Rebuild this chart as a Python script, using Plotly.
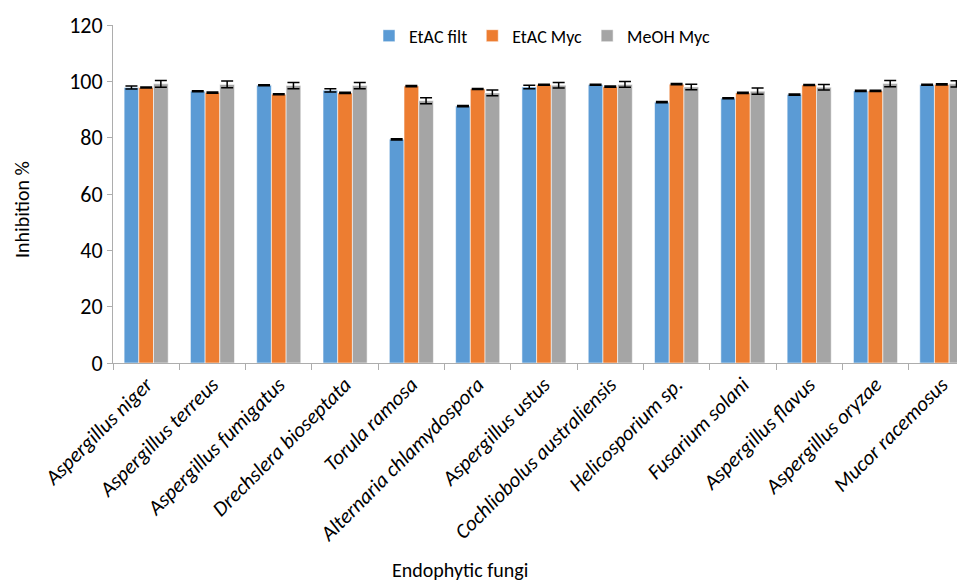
import plotly.graph_objects as go

categories = ["Aspergillus niger", "Aspergillus terreus", "Aspergillus fumigatus",
              "Drechslera bioseptata", "Torula ramosa", "Alternaria chlamydospora",
              "Aspergillus ustus", "Cochliobolus australiensis", "Helicosporium sp.",
              "Fusarium solani", "Aspergillus flavus", "Aspergillus oryzae", "Mucor racemosus"]

etac_filt = [97.8, 96.5, 98.6, 96.8, 79.4, 91.2, 98.0, 98.8, 92.6, 94.0, 95.3, 96.6, 98.8]
etac_filt_err = [0.5, 0.2, 0.2, 0.6, 0.2, 0.2, 0.65, 0.2, 0.2, 0.2, 0.2, 0.2, 0.2]

etac_myc = [97.8, 96.0, 95.4, 95.9, 98.3, 97.3, 98.8, 98.1, 99.0, 95.9, 98.7, 96.6, 98.9]
etac_myc_err = [0.2, 0.2, 0.2, 0.2, 0.2, 0.2, 0.2, 0.2, 0.2, 0.2, 0.2, 0.2, 0.2]

meoh_myc = [99.1, 98.9, 98.5, 98.5, 93.1, 95.9, 98.6, 98.9, 98.0, 96.5, 97.9, 99.2, 99.1]
meoh_myc_err = [1.2, 1.2, 1.1, 1.1, 1.1, 1.0, 1.0, 1.0, 1.0, 1.1, 1.0, 1.1, 1.1]

series = [
    ("EtAC filt", etac_filt, etac_filt_err, "#5B9BD5"),
    ("EtAC Myc", etac_myc, etac_myc_err, "#ED7D31"),
    ("MeOH Myc", meoh_myc, meoh_myc_err, "#A5A5A5"),
]

FONT = "Carlito, Lato, 'Liberation Sans', sans-serif"

# page body adds an 8px offset; figure is sized/placed to compensate
W, H = 957, 575
L, T, B = 105, 17, 220
PW, PH = W - L, H - T - B

fig = go.Figure()
for name, vals, errs, col in series:
    fig.add_trace(go.Bar(
        name=name, x=categories, y=vals,
        marker=dict(color=col, line=dict(color="rgba(255,255,255,0.7)", width=0.8)),
        error_y=dict(type="data", array=errs, visible=True, color="black",
                     thickness=1.5, width=6),
    ))

axis_col = "#ADADAD"
fig.update_layout(
    width=W, height=H,
    margin=dict(l=L, r=0, t=T, b=B, autoexpand=False),
    paper_bgcolor="white", plot_bgcolor="white",
    barmode="group", bargap=0.335, bargroupgap=0,
    font=dict(family=FONT, color="black"),
    showlegend=True,
    legend=dict(orientation="h", x=(542 - 8 - L) / PW, xanchor="center",
                y=(H - B - 28) / PH, yanchor="middle",
                font=dict(family=FONT, size=18), itemwidth=30, traceorder="normal",
                bgcolor="rgba(0,0,0,0)"),
    xaxis=dict(
        type="category", range=[-0.5, 12.35], tickson="boundaries",
        ticks="outside", ticklen=6, tickcolor=axis_col, tickwidth=1,
        showline=True, linecolor=axis_col, linewidth=1,
        tickangle=-45, tickfont=dict(family=FONT, size=21, style="italic"),
        showgrid=False,
    ),
    yaxis=dict(
        range=[0, 120], tickvals=[0, 20, 40, 60, 80, 100, 120],
        ticks="outside", ticklen=5, tickcolor=axis_col, tickwidth=1,
        showline=True, linecolor=axis_col, linewidth=1,
        tickfont=dict(family=FONT, size=22), showgrid=False, zeroline=False,
    ),
    annotations=[
        dict(text="Endophytic fungi", xref="paper", yref="paper",
             x=(460 - 8 - L) / PW, y=-(570 - 8 - (H - B)) / PH,
             xanchor="center", yanchor="middle",
             showarrow=False, font=dict(family=FONT, size=20)),
        dict(text="Inhibition %", xref="paper", yref="paper",
             x=-(L - (22 - 8)) / PW, y=((H - B) - (210 - 8)) / PH,
             xanchor="center", yanchor="middle",
             textangle=-90, showarrow=False, font=dict(family=FONT, size=20)),
    ],
)

fig.write_html("out.html")
